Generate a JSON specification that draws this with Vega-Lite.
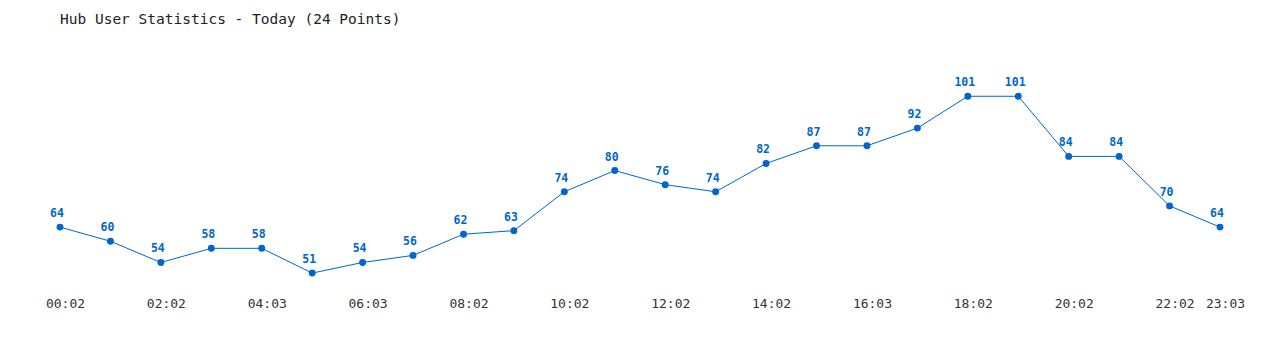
{
  "$schema": "https://vega.github.io/schema/vega-lite/v6.json",
  "autosize": {"type": "none"},
  "width": 1160,
  "height": 244,
  "padding": {"left": 60, "top": 45, "right": 60, "bottom": 61},
  "background": "white",
  "title": {
    "text": "Hub User Statistics - Today (24 Points)",
    "anchor": "start",
    "font": "DejaVu Sans Mono",
    "fontSize": 14.5,
    "fontWeight": "normal",
    "color": "#222222",
    "baseline": "middle",
    "offset": 11,
    "frame": "group"
  },
  "config": {"view": {"stroke": null}},
  "data": {
    "values": [
      {"time": "00:02", "users": 64},
      {"time": "01:02", "users": 60},
      {"time": "02:02", "users": 54},
      {"time": "03:03", "users": 58},
      {"time": "04:03", "users": 58},
      {"time": "05:03", "users": 51},
      {"time": "06:03", "users": 54},
      {"time": "07:02", "users": 56},
      {"time": "08:02", "users": 62},
      {"time": "09:02", "users": 63},
      {"time": "10:02", "users": 74},
      {"time": "11:02", "users": 80},
      {"time": "12:02", "users": 76},
      {"time": "13:02", "users": 74},
      {"time": "14:02", "users": 82},
      {"time": "15:02", "users": 87},
      {"time": "16:03", "users": 87},
      {"time": "17:03", "users": 92},
      {"time": "18:02", "users": 101},
      {"time": "19:02", "users": 101},
      {"time": "20:02", "users": 84},
      {"time": "21:02", "users": 84},
      {"time": "22:02", "users": 70},
      {"time": "23:03", "users": 64}
    ]
  },
  "encoding": {
    "x": {
      "field": "time",
      "type": "ordinal",
      "sort": null,
      "scale": {"type": "point", "padding": 0},
      "axis": {
        "title": null,
        "values": ["00:02","02:02","04:03","06:03","08:02","10:02","12:02","14:02","16:03","18:02","20:02","22:02","23:03"],
        "domain": false,
        "ticks": false,
        "grid": false,
        "labelAngle": 0,
        "labelFont": "DejaVu Sans Mono",
        "labelFontSize": 13,
        "labelColor": "#333333",
        "labelBaseline": "middle",
        "labelPadding": 14,
        "labelOffset": 5,
        "labelOverlap": false
      }
    },
    "y": {
      "field": "users",
      "type": "quantitative",
      "scale": {"domain": [46.5, 115.5], "zero": false},
      "axis": null
    }
  },
  "layer": [
    {"mark": {"type": "line", "color": "#0066cc", "strokeWidth": 1}},
    {"mark": {"type": "point", "filled": true, "color": "#0066cc", "size": 48, "opacity": 1}},
    {
      "mark": {
        "type": "text",
        "color": "#0066cc",
        "font": "DejaVu Sans Mono",
        "fontSize": 11.5,
        "fontWeight": "bold",
        "baseline": "middle",
        "dy": -13,
        "dx": -3
      },
      "encoding": {"text": {"field": "users", "type": "quantitative"}}
    }
  ]
}
